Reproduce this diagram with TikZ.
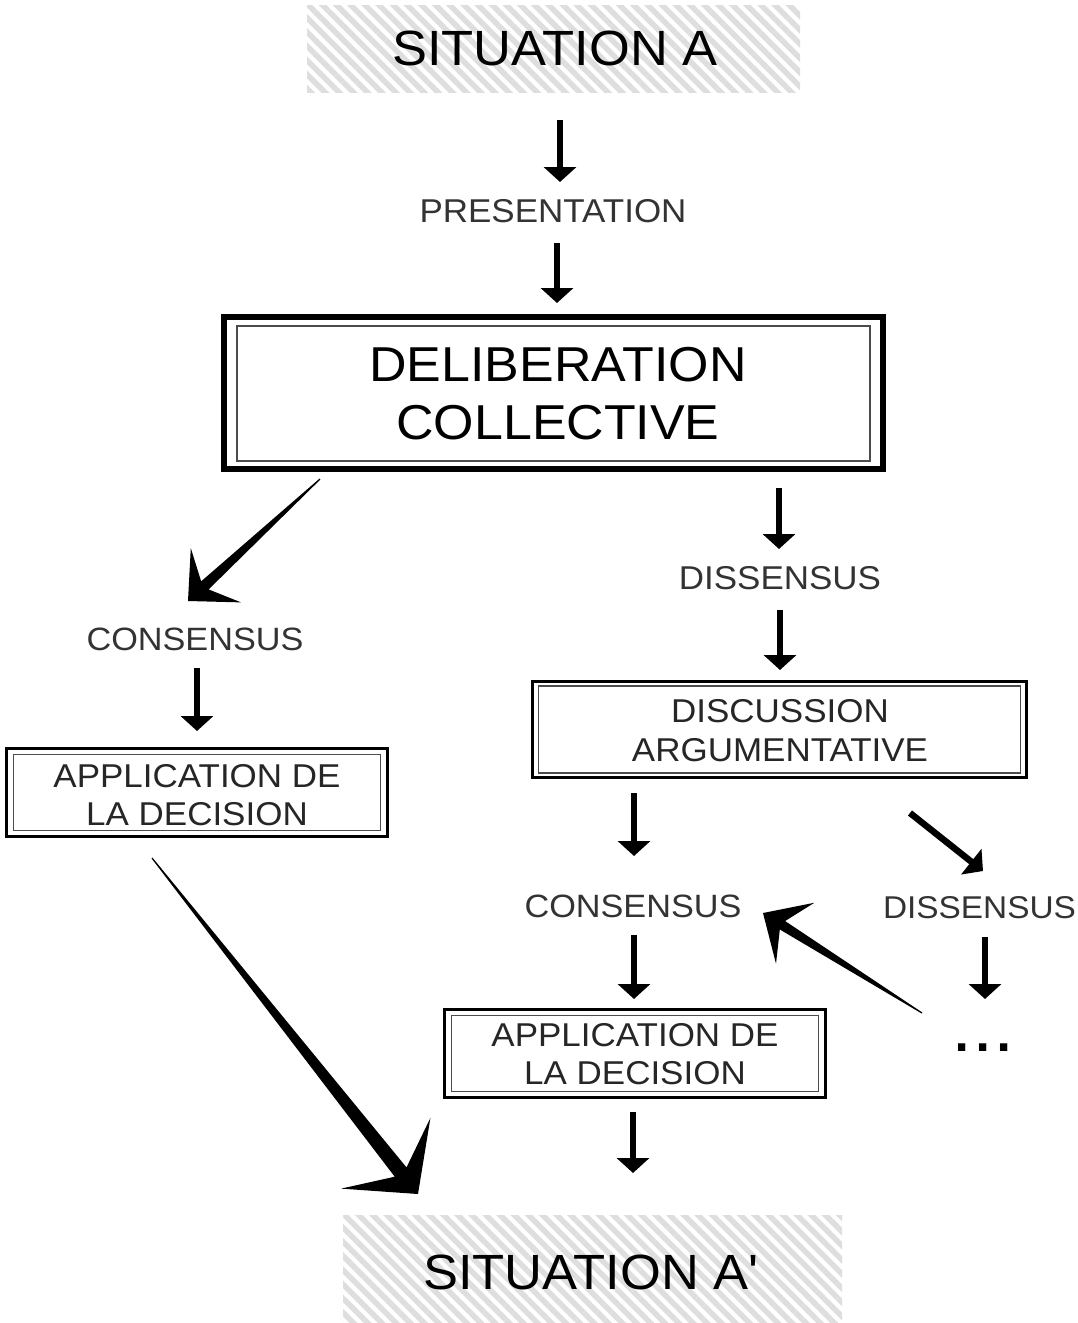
\documentclass[tikz,border=0pt]{standalone}
\usepackage{fontspec}
\setmainfont[FakeStretch=1.06,Ligatures=TeXOff]{Liberation Sans}
\usetikzlibrary{arrows.meta,patterns.meta,calc}
\newcommand\taperarrow[6]{%
  \path ($(#2)!#4!(#1)$) coordinate (tpN) ($(#2)!#5!(#1)$) coordinate (tpB);
  \fill[black] ($(#1)!0.6pt!90:(#2)$) -- ($(tpN)!#3!-90:(#1)$) -- ($(tpB)!#6!-90:(#1)$) -- (#2)
     -- ($(tpB)!#6!90:(#1)$) -- ($(tpN)!#3!90:(#1)$) -- ($(#1)!0.6pt!-90:(#2)$) -- cycle;}
\begin{document}
\begin{tikzpicture}[x=1pt,y=-1pt,
  hatchbox/.style={rectangle,draw=none,inner sep=0pt,
     pattern={Lines[angle=-45,distance=10pt,line width=5.5pt]},pattern color=black!13},
  bigtext/.style={font=\fontsize{49}{58}\selectfont,text=black,align=center},
  label/.style={font=\fontsize{33}{39}\selectfont,text=black!80},
  boxtext/.style={font=\fontsize{33}{38.5}\selectfont,text=black!85,align=center},
  frame/.style={rectangle,draw=black,line width=3pt,inner sep=0pt},
  innerframe/.style={draw=black!70,line width=1.6pt},
  arr/.style={line width=6.5pt,-{Triangle[width=32pt,length=15pt]}},
]
\useasboundingbox (0,0) rectangle (1078,1323);
\fill[white] (0,0) rectangle (1078,1323);

% Situation A
\node[hatchbox,minimum width=493pt,minimum height=87pt] (sitAbox) at (553.5,48.5) {};
\node[bigtext,font=\fontsize{49.5}{58}\selectfont] (sitA) at (555,48) {SITUATION A};

\node[label] (pres) at (553,211) {PRESENTATION};

% Deliberation collective
\node[frame,line width=6pt,minimum width=659pt,minimum height=152pt] (delib) at (553.5,393) {};
\draw[innerframe] ($(delib.north west)+(16,12)$) rectangle ($(delib.south east)+(-16,-11)$);
\node[bigtext,font=\fontsize{49}{58}\selectfont] (delibt) at (558,394) {DELIBERATION\\COLLECTIVE};

\node[label] (dis1) at (780,578) {DISSENSUS};
\node[label,font=\fontsize{32.3}{39}\selectfont] (cons1) at (195,639) {CONSENSUS};

% Discussion argumentative
\node[frame,minimum width=494pt,minimum height=96pt] (disc) at (779.5,729.5) {};
\draw[innerframe] ($(disc.north west)+(7.5,6)$) rectangle ($(disc.south east)+(-7.5,-6)$);
\node[boxtext,font=\fontsize{33}{39}\selectfont] (disct) at (780,731) {DISCUSSION\\ARGUMENTATIVE};

% Application (left)
\node[frame,minimum width=381pt,minimum height=88pt] (app1) at (197,792.5) {};
\draw[innerframe] ($(app1.north west)+(8.5,7.5)$) rectangle ($(app1.south east)+(-8.5,-7.5)$);
\node[boxtext] (app1t) at (197,795) {APPLICATION DE\\LA DECISION};

\node[label,font=\fontsize{32.3}{39}\selectfont] (cons2) at (633,906) {CONSENSUS};
\node[label,font=\fontsize{31.5}{39}\selectfont,inner sep=0pt] (dis2) at (979.5,908) {DISSENSUS};
\node[font=\fontsize{72}{80}\selectfont,anchor=base,inner sep=0pt] (dots) at (983,1051) {...};

% Application (right)
\node[frame,minimum width=381pt,minimum height=88pt] (app2) at (635,1053.5) {};
\draw[innerframe] ($(app2.north west)+(8.5,7.5)$) rectangle ($(app2.south east)+(-8.5,-7.5)$);
\node[boxtext] (app2t) at (635,1054) {APPLICATION DE\\LA DECISION};

% Situation A'
\node[hatchbox,minimum width=499pt,minimum height=108pt] (sitA2box) at (592.5,1269) {};
\node[bigtext,font=\fontsize{49.5}{58}\selectfont] (sitA2) at (591,1272) {SITUATION A'};

% straight arrows
\coordinate (a1s) at (560,120); \coordinate (a1e) at (560,182);
\coordinate (a2s) at (557,243); \coordinate (a2e) at (557,303);
\coordinate (a3s) at (779,488); \coordinate (a3e) at (779,549);
\coordinate (a4s) at (780,610); \coordinate (a4e) at (780,670);
\coordinate (a5s) at (197,668); \coordinate (a5e) at (197,731);
\coordinate (a6s) at (634,793); \coordinate (a6e) at (634,856);
\coordinate (a7s) at (910,813); \coordinate (a7e) at (983,871);
\coordinate (a8s) at (634,935); \coordinate (a8e) at (634,999);
\coordinate (a9s) at (985,937); \coordinate (a9e) at (985,999);
\coordinate (a10s) at (633,1112); \coordinate (a10e) at (633,1173);
\foreach \i in {1,...,10} {\draw[arr] (a\i s) -- (a\i e);}

% tapered arrows
\coordinate (t1s) at (320,479); \coordinate (t1e) at (188,601);
\coordinate (t2s) at (152,858); \coordinate (t2e) at (418,1194);
\coordinate (t3s) at (922,1013); \coordinate (t3e) at (763,913);
\taperarrow{t1s}{t1e}{5.5pt}{23pt}{38pt}{37pt}
\taperarrow{t2s}{t2e}{7.5pt}{28pt}{52pt}{57pt}
\taperarrow{t3s}{t3e}{5pt}{23pt}{38pt}{36pt}
\end{tikzpicture}
\end{document}
